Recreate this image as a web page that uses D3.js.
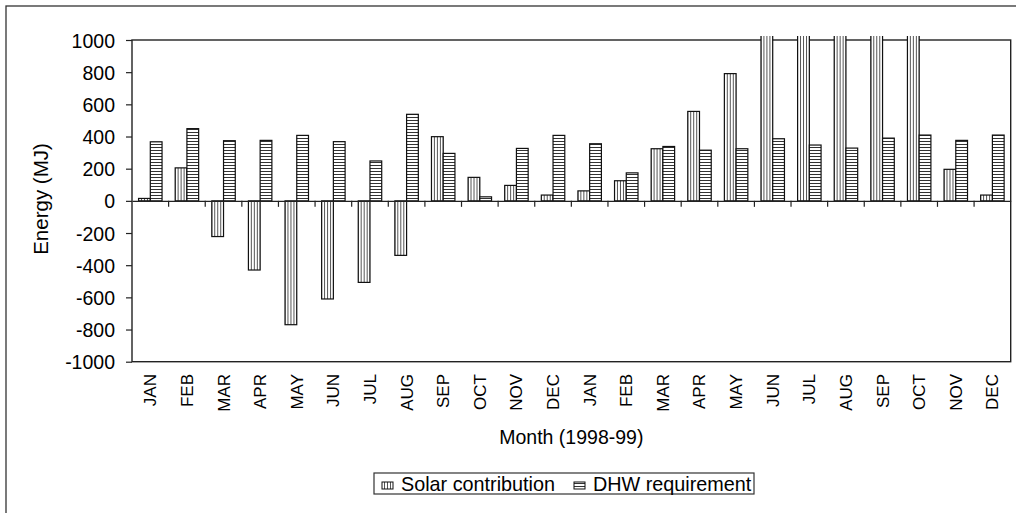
<!DOCTYPE html>
<html>
<head>
<meta charset="utf-8">
<script src="https://cdn.jsdelivr.net/npm/d3@7"></script>
<style>
  body { margin: 0; background: #fff; }
  text { font-family: Arial, "Liberation Sans", sans-serif; fill: #000; }
</style>
</head>
<body>
<div id="visContainer"></div>
<script>
// months of 1998 then 1999
const months = ["JAN","FEB","MAR","APR","MAY","JUN","JUL","AUG","SEP","OCT","NOV","DEC",
                "JAN","FEB","MAR","APR","MAY","JUN","JUL","AUG","SEP","OCT","NOV","DEC"];
// solar contribution (MJ); Jun-Oct 1999 run off the top of the chart, guessed above 1000
const solar = [15, 205, -222, -430, -770, -610, -507, -339, 399, 146, 96, 36,
               62, 125, 324, 556, 791, 1400, 1600, 1500, 1300, 1250, 196, 36];
// DHW requirement (MJ)
const dhw = [367, 449, 374, 376, 407, 368, 248, 538, 295, 25, 326, 407,
             355, 174, 338, 315, 324, 386, 347, 328, 390, 409, 376, 409];
const seriesNames = ["Solar contribution", "DHW requirement"];
const yTicks = [-1000, -800, -600, -400, -200, 0, 200, 400, 600, 800, 1000];

function makeVis() {
  const width = 1016;
  const height = 513;
  const plot = { left: 132, right: 1010.7, top: 40, bottom: 361.7 };

  const svg = d3.create("svg")
    .attr("width", width)
    .attr("height", height);
  document.querySelector("#visContainer").append(svg.node());

  // hatch patterns
  const defs = svg.append("defs");
  const vert = defs.append("pattern").attr("id", "vhatch")
    .attr("patternUnits", "userSpaceOnUse").attr("width", 3).attr("height", 3);
  vert.append("rect").attr("width", 3).attr("height", 3).attr("fill", "#fff");
  vert.append("line").attr("x1", 0.5).attr("x2", 0.5).attr("y1", 0).attr("y2", 3)
    .attr("stroke", "#555").attr("stroke-width", 1);
  const horiz = defs.append("pattern").attr("id", "hhatch")
    .attr("patternUnits", "userSpaceOnUse").attr("width", 3).attr("height", 3);
  horiz.append("rect").attr("width", 3).attr("height", 3).attr("fill", "#fff");
  horiz.append("line").attr("x1", 0).attr("x2", 3).attr("y1", 0.5).attr("y2", 0.5)
    .attr("stroke", "#333").attr("stroke-width", 1);
  const fills = ["url(#vhatch)", "url(#hhatch)"];

  defs.append("clipPath").attr("id", "clip")
    .append("rect").attr("x", 0).attr("y", plot.top - 4)
    .attr("width", width).attr("height", height);

  // outer frame (runs off right and bottom)
  svg.append("rect")
    .attr("x", 6).attr("y", 6).attr("width", 1040).attr("height", 540)
    .attr("fill", "none").attr("stroke", "#333").attr("stroke-width", 1.3);

  const x = d3.scaleBand().domain(d3.range(months.length))
    .range([plot.left, plot.right]).padding(0);
  const xs = d3.scaleBand().domain([0, 1])
    .range([0, x.bandwidth()]).paddingInner(0).paddingOuter(0.56);
  const y = d3.scaleLinear().domain([-1000, 1000]).range([plot.bottom, plot.top]);

  // plot area
  svg.append("rect")
    .attr("x", plot.left).attr("y", plot.top)
    .attr("width", plot.right - plot.left).attr("height", plot.bottom - plot.top)
    .attr("fill", "#fff").attr("stroke", "#222").attr("stroke-width", 1.4);

  // bars
  const rows = months.map((m, i) => [solar[i], dhw[i]]);
  const groups = svg.append("g").attr("clip-path", "url(#clip)")
    .selectAll("g").data(rows).join("g")
    .attr("transform", (d, i) => `translate(${x(i)},0)`);
  groups.selectAll("rect")
    .data(d => d.map((v, s) => ({ v, s })))
    .join("rect")
    .attr("x", d => xs(d.s))
    .attr("width", xs.bandwidth())
    .attr("y", d => d.v >= 0 ? (d.v > 1000 ? y(1000) - 10 : y(d.v)) : y(0))
    .attr("height", d => d.v >= 0 ? y(0) - (d.v > 1000 ? y(1000) - 10 : y(d.v)) : y(d.v) - y(0))
    .attr("fill", d => fills[d.s])
    .attr("stroke", "#111").attr("stroke-width", 1.2);

  // zero line with category ticks
  const xAxis = svg.append("g")
    .attr("transform", `translate(0,${y(0)})`)
    .call(d3.axisBottom(x).tickSize(0).tickFormat(""));
  xAxis.select(".domain").attr("stroke", "#222").attr("stroke-width", 1.3);
  xAxis.selectAll(".catTick")
    .data(d3.range(1, months.length))
    .join("line")
    .attr("x1", i => x(i)).attr("x2", i => x(i))
    .attr("y1", 0).attr("y2", 6)
    .attr("stroke", "#222").attr("stroke-width", 1.2);

  // y axis
  const yAxis = svg.append("g")
    .attr("transform", `translate(${plot.left},0)`)
    .call(d3.axisLeft(y).tickValues(yTicks).tickSize(6).tickPadding(11)
      .tickFormat(d => String(d)));
  yAxis.select(".domain").remove();
  yAxis.selectAll(".tick line").attr("stroke", "#222").attr("stroke-width", 1.2);
  yAxis.selectAll(".tick text")
    .attr("font-size", 19.5)
    .attr("fill", "#000").attr("dy", "0.36em");

  // month labels
  svg.append("g").selectAll("text")
    .data(months)
    .join("text")
    .attr("transform", (d, i) => `translate(${x(i) + x.bandwidth() / 2 + 6},374) rotate(-90)`)
    .attr("text-anchor", "end")
    .attr("font-size", 17)
    .text(d => d);

  // axis titles
  svg.append("text")
    .attr("x", (plot.left + plot.right) / 2).attr("y", 444)
    .attr("text-anchor", "middle").attr("font-size", 19.5)
    .text("Month (1998-99)");
  svg.append("text")
    .attr("transform", `translate(48,199) rotate(-90)`)
    .attr("text-anchor", "middle").attr("font-size", 20.5)
    .text("Energy (MJ)");

  // legend
  const legend = svg.append("g");
  legend.append("rect")
    .attr("x", 374).attr("y", 473).attr("width", 380).attr("height", 21)
    .attr("fill", "#fff").attr("stroke", "#333").attr("stroke-width", 1.2);
  const lx = [382, 574];
  seriesNames.forEach((name, s) => {
    legend.append("rect")
      .attr("x", lx[s]).attr("y", 482).attr("width", 11).attr("height", 7)
      .attr("fill", fills[s]).attr("stroke", "#111").attr("stroke-width", 1);
    legend.append("text")
      .attr("x", lx[s] + 19).attr("y", 490.5)
      .attr("font-size", 19.8)
      .text(name);
  });
}

makeVis();
</script>
</body>
</html>
